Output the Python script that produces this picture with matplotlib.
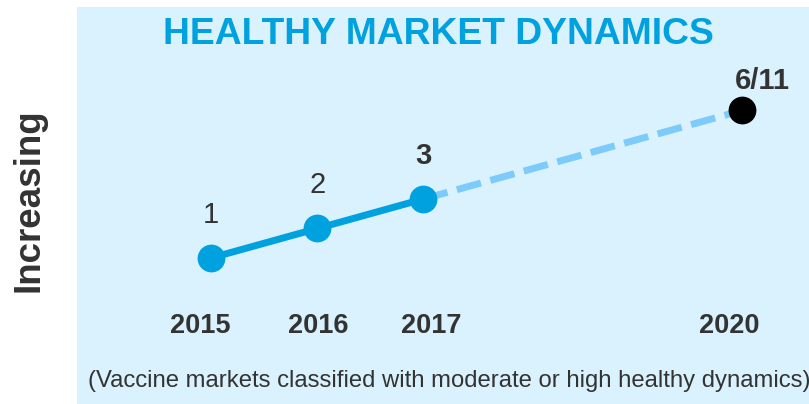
import matplotlib
matplotlib.use("Agg")
import matplotlib.pyplot as plt

# data
years = [2015, 2016, 2017, 2020]
values = [1, 2, 3, 6]
labels = ["1", "2", "3", "6/11"]
label_bold = [False, False, True, True]
year_labels = ["2015", "2016", "2017", "2020"]

plt.rcParams['font.family'] = ['Liberation Sans', 'DejaVu Sans']

bg = '#D9F2FD'
blue = '#00A1DF'
light = '#7CCBFA'
dark = '#333333'

fig = plt.figure(figsize=(8.09, 4.04), dpi=100)
ax = fig.add_axes([77/809, 0, 1 - 77/809, 397/404])
ax.set_facecolor(bg)
for s in ax.spines.values():
    s.set_visible(False)
ax.set_xticks([])
ax.set_yticks([])
ax.set_xlim(2013.738, 2020.631)
ax.set_ylim(-3.949, 9.508)

# dashed projection 2017 -> 2020
ax.plot(years[2:], values[2:], color=light, lw=5, dashes=(3.6, 1.4),
        solid_capstyle='butt', zorder=2)
# solid actual
ax.plot(years[:3], values[:3], color=blue, lw=5, zorder=3,
        marker='o', markersize=20, markerfacecolor=blue, markeredgewidth=0)
ax.plot(years[3], values[3], marker='o', markersize=20, color='black',
        markeredgewidth=0, zorder=4)

for x, y, t, b in zip(years, values, labels, label_bold):
    if t == "6/11":
        off = (15, 21)
    else:
        off = (0, 31)
    ax.annotate(t, (x, y), xytext=off, textcoords='offset points',
                ha='center', va='center', fontsize=21, color=dark,
                fontweight='bold' if b else 'normal')

# year labels are not exactly under the points in the original
dx = [-8, 1, 6, -9]
for x, t, d in zip(years, year_labels, dx):
    ax.annotate(t, (x, -1.2), xytext=(d, -2), textcoords='offset points',
                ha='center', va='center', fontsize=19.5,
                fontweight='bold', color=dark)

fig.text(438/809, 1 - 34/404, "HEALTHY MARKET DYNAMICS",
         ha='center', va='center', fontsize=26.8, fontweight='bold', color=blue)
fig.text(29/809, 1 - 200/404, "Increasing", rotation=90, ha='center', va='center',
         fontsize=26.5, fontweight='bold', color=dark)
fig.text(88/809, 1 - 381/404,
         "(Vaccine markets classified with moderate or high healthy dynamics)",
         ha='left', va='center', fontsize=17.2, color=dark)

fig.savefig("out.png", dpi=100)
